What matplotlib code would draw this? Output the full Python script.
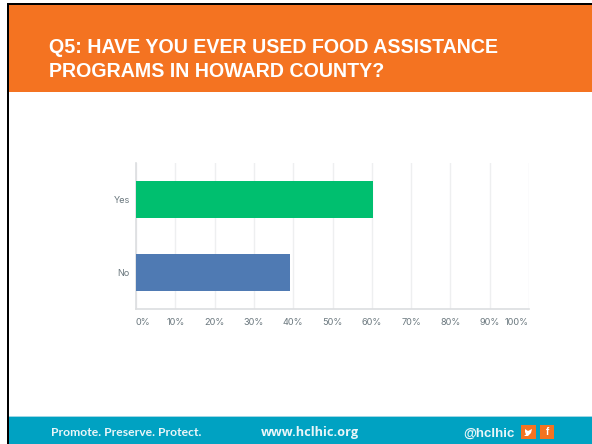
import matplotlib
matplotlib.use('Agg')
import matplotlib.pyplot as plt
from matplotlib.patches import Rectangle, Polygon

categories = ['No', 'Yes']
percent_values = [39.2, 60.4]
bar_colors = ['#4f7ab3', '#00bf6f']
tick_values = [0, 10, 20, 30, 40, 50, 60, 70, 80, 90, 100]
tick_labels = ['0%', '10%', '20%', '30%', '40%', '50%', '60%', '70%', '80%', '90%', '100%']

title_lines = 'Q5: HAVE YOU EVER USED FOOD ASSISTANCE\nPROGRAMS IN HOWARD COUNTY?'
footer_motto = 'Promote. Preserve. Protect.'
footer_site = 'www.hclhic.org'
footer_handle = '@hclhic'

W, H = 592, 444
ORANGE = '#f47321'
TEAL = '#00a2c2'

fig = plt.figure(figsize=(W / 100, H / 100), dpi=100)
fig.patch.set_facecolor('white')

# slide background in pixel coordinates, y pointing down
bg = fig.add_axes([0, 0, 1, 1])
bg.set_xlim(0, W)
bg.set_ylim(H, 0)
bg.axis('off')
bg.add_patch(Rectangle((9, 5), W - 9, 87, fc=ORANGE, ec='none'))
bg.add_patch(Rectangle((9, 417), W - 9, 27, fc=TEAL, ec='none'))
bg.add_patch(Rectangle((9, 416), W - 9, 1, fc='#9fd6e4', ec='none'))
# black slide frame
bg.add_patch(Rectangle((7, 3), 2, H - 3, fc='black', ec='none'))
bg.add_patch(Rectangle((7, 3), W - 7, 2, fc='black', ec='none'))

bg.text(49, 59.5, title_lines, color='white', fontsize=14.1, fontweight='bold',
        family='Liberation Sans', ha='left', va='center', linespacing=1.3)

bg.text(51, 432, footer_motto, color='#eaf6f9', fontsize=8.7, fontweight='bold',
        family='Lato', ha='left', va='center')
bg.text(261, 432, footer_site, color='#eaf6f9', fontsize=9.2, fontweight='bold',
        family='Open Sans', ha='left', va='center')
bg.text(463, 433.5, footer_handle, color='#eaf6f9', fontsize=9.5, fontweight='bold',
        family='Liberation Sans', ha='left', va='center')

# social icons
bg.add_patch(Rectangle((521, 425), 15, 14, fc=ORANGE, ec='none'))
bg.add_patch(Rectangle((540, 425), 14, 14, fc=ORANGE, ec='none'))
bg.add_patch(Polygon([(525, 429), (528, 431), (532, 429), (531, 433), (528, 436), (524, 436),
                      (526, 434.5), (525, 432)], closed=True, fc='white', ec='none'))
bg.text(547, 432, 'f', color='white', fontsize=7, fontweight='bold',
        family='Liberation Sans', ha='center', va='center')

# chart area
ax = fig.add_axes([136 / W, 1 - 309 / H, (529 - 136) / W, (309 - 163) / H])
ax.set_facecolor('none')
ax.barh(categories, percent_values, height=0.5, color=bar_colors, zorder=3)
ax.set_xlim(0, 100)
ax.set_ylim(-0.5, 1.5)
ax.set_xticks(tick_values)
ax.set_xticklabels(tick_labels)
ax.grid(axis='x', color='#eeeff0', linewidth=1.0, zorder=0)
ax.set_axisbelow(True)
for side in ['top', 'right']:
    ax.spines[side].set_visible(False)
ax.spines['left'].set_color('#dcdee0')
ax.spines['bottom'].set_color('#dcdee0')
ax.spines['left'].set_linewidth(1.2)
ax.spines['bottom'].set_linewidth(1.2)
ax.tick_params(axis='both', length=0, labelsize=6.6, labelcolor='#6b787f')
ax.tick_params(axis='x', pad=6.5)
ax.tick_params(axis='y', pad=4.5)
for lab in ax.get_xticklabels() + ax.get_yticklabels():
    lab.set_family('Inter')

xlabels = ax.get_xticklabels()
xlabels[0].set_ha('left')
xlabels[0].set_x(0.3)
xlabels[-1].set_ha('right')

plt.savefig('out.png', dpi=100)
